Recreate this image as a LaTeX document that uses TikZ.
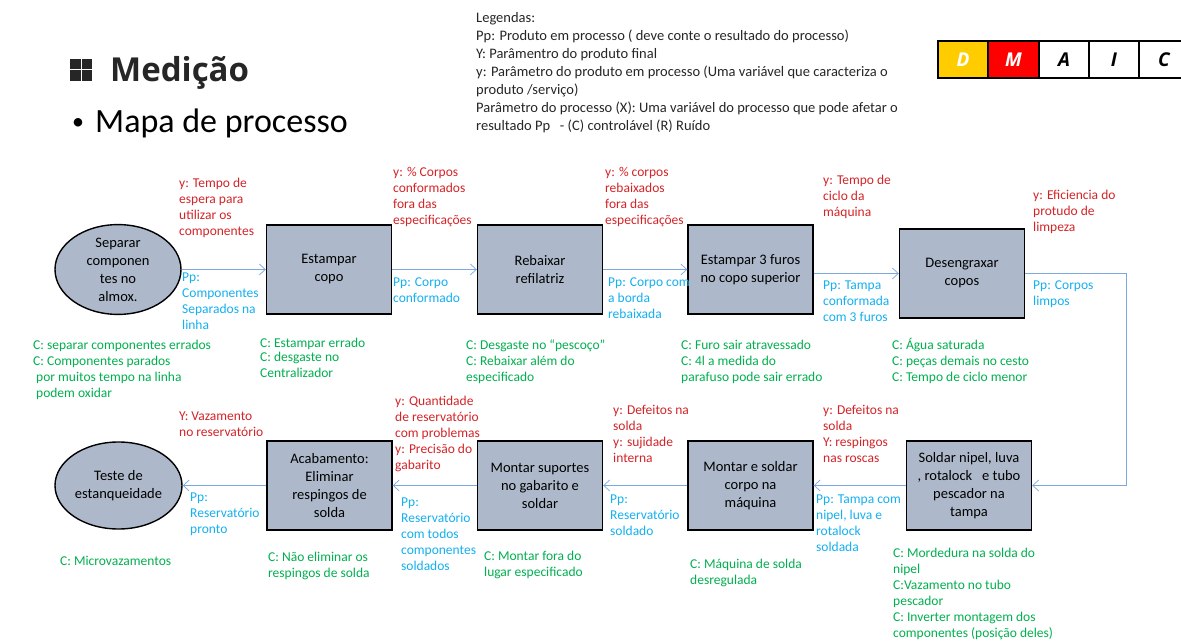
\documentclass[tikz,border=0pt]{standalone}
\usepackage{fontspec}
\setmainfont{Carlito}
\newfontfamily\osans{Open Sans}
\usetikzlibrary{arrows.meta,shapes.geometric}
\definecolor{boxfill}{RGB}{173,185,202}
\definecolor{lred}{RGB}{212,36,40}
\definecolor{lcyan}{RGB}{20,176,240}
\definecolor{lgreen}{RGB}{0,176,80}
\definecolor{arrowblue}{RGB}{125,168,222}
\definecolor{dgray}{RGB}{38,38,38}
\definecolor{dyellow}{RGB}{255,204,0}
\definecolor{dred}{RGB}{255,0,0}
\tikzset{
  procbox/.style={draw=black, line width=1.4pt, fill=boxfill, minimum width=125pt, minimum height=89pt,
    align=center, inner sep=2pt, font=\fontsize{14.5}{18}\selectfont},
  procell/.style={ellipse, draw=black, line width=1.4pt, fill=boxfill, minimum width=126pt, minimum height=88pt,
    align=center, inner sep=0pt, font=\fontsize{14.5}{18}\selectfont},
  lab/.style={inner sep=0pt, anchor=north west, align=left, font=\fontsize{13.5}{16}\selectfont,
    yshift=-2pt, execute at begin node=\strut},
  ylab/.style={lab, text=lred},
  plab/.style={lab, text=lcyan},
  clab/.style={lab, text=lgreen},
  leg/.style={inner sep=0pt, anchor=north west, align=left, font=\fontsize{14.5}{18}\selectfont,
    text=dgray, yshift=-3pt, execute at begin node=\strut},
  flow/.style={draw=arrowblue, line width=0.8pt, -{Straight Barb[length=6pt,width=11pt,line width=0.7pt]}},
  dcell/.style={draw=black, line width=1.3pt, minimum width=50pt, minimum height=37pt, inner sep=0pt,
    font=\osans\bfseries\itshape\fontsize{19}{24}\selectfont},
}
\begin{document}
\begin{tikzpicture}[x=1pt,y=-1pt]
\useasboundingbox[fill=white] (0,0) rectangle (1181,644);

% title
\fill[dgray] (70,59) rectangle (80.5,69.5);
\fill[dgray] (81.5,59) rectangle (92,69.5);
\fill[dgray] (70,70.5) rectangle (80.5,81);
\fill[dgray] (81.5,70.5) rectangle (92,81);
\node[inner sep=0pt, anchor=base west, text=dgray, font=\osans\bfseries\fontsize{33}{38}\selectfont] (title) at (110,82) {Medição};
\node[inner sep=0pt, font=\fontsize{24}{30}\selectfont] (bul) at (78,124) {•};
\node[inner sep=0pt, anchor=base west, font=\fontsize{34}{38}\selectfont] (sub) at (95,133) {Mapa de processo};

% legend
\node[leg] (legend) at (476,9) {Legendas:\\
Pp: Produto em processo ( deve conte o resultado do processo)\\
Y: Parâmentro do produto final\\
y: Parâmetro do produto em processo (Uma variável que caracteriza o\\
produto /serviço)\\
Parâmetro do processo (X): Uma variável do processo que pode afetar o\\
resultado Pp \ \ - (C) controlável (R) Ruído};

% DMAIC
\node[dcell, fill=dyellow, text=white] (dD) at (963,59.5) {D};
\node[dcell, fill=dred, text=white] (dM) at (1013.5,59.5) {M};
\node[dcell, fill=white, text=black] (dA) at (1064,59.5) {A};
\node[dcell, fill=white, text=black] (dI) at (1114,59.5) {I};
\node[dcell, fill=white, text=black] (dC) at (1164,59.5) {C};

% row 1
\node[procell] (e1) at (118,269.5) {Separar\\componen\\tes no\\almox.};
\node[procbox] (b1) at (329,269.5) {Estampar\\copo};
\node[procbox] (b2) at (540,269.5) {Rebaixar\\refilatriz};
\node[procbox] (b3) at (750.5,269.5) {Estampar 3 furos\\no copo superior};
\node[procbox] (b4) at (962,273.5) {Desengraxar\\copos};

% row 2
\node[procbox] (b5) at (969,485.5) {Soldar nipel, luva\\, rotalock \ \ e tubo\\pescador na\\tampa};
\node[procbox] (b6) at (750.5,485.5) {Montar e soldar\\corpo na\\máquina};
\node[procbox] (b7) at (540,485.5) {Montar suportes\\no gabarito e\\soldar};
\node[procbox] (b8) at (329.5,485.5) {Acabamento:\\Eliminar\\respingos de\\solda};
\node[procell, minimum width=127pt, minimum height=87pt] (e2) at (118.5,485.5) {Teste de\\estanqueidade};

% connectors
\draw[flow] (e1) -- (b1);
\draw[flow] (b1) -- (b2);
\draw[flow] (b2) -- (b3);
\draw[flow] (b3.east |- b4.west) -- (b4.west);
\coordinate (turn) at (1126,273.5);
\draw[flow] (b4.east) -- (turn) |- (b5.east);
\draw[flow] (b5) -- (b6);
\draw[flow] (b6) -- (b7);
\draw[flow] (b7) -- (b8);
\draw[flow] (b8) -- (e2);

% y labels
\node[ylab] (r1) at (179,176) {y: Tempo de\\espera para\\utilizar os\\componentes};
\node[ylab] (r2) at (393,165) {y: \% Corpos\\conformados\\fora das\\especificações};
\node[ylab] (r3) at (605,165) {y: \% corpos\\rebaixados\\fora das\\especificações};
\node[ylab] (r4) at (823,173) {y: Tempo de\\ciclo da\\máquina};
\node[ylab] (r5) at (1033,188) {y: Eficiencia do\\protudo de\\limpeza};
\node[ylab] (r6) at (179,410) {Y: Vazamento\\no reservatório};
\node[ylab] (r7) at (395,394) {y: Quantidade\\de reservatório\\com problemas\\y: Precisão do\\gabarito};
\node[ylab] (r8) at (613,403) {y: Defeitos na\\solda\\y: sujidade\\interna};
\node[ylab] (r9) at (823,403) {y: Defeitos na\\solda\\Y: respingos\\nas roscas};

% Pp labels
\node[plab] (p1) at (182,271) {Pp:\\Componentes\\Separados na\\linha};
\node[plab] (p2) at (393,276) {Pp: Corpo\\conformado};
\node[plab] (p3) at (608,276) {Pp: Corpo com\\a borda\\rebaixada};
\node[plab] (p4) at (823,279) {Pp: Tampa\\conformada\\com 3 furos};
\node[plab] (p5) at (1033,279) {Pp: Corpos\\limpos};
\node[plab] (p6) at (190,491) {Pp:\\Reservatório\\pronto};
\node[plab] (p7) at (401,496) {Pp:\\Reservatório\\com todos\\componentes\\soldados};
\node[plab] (p8) at (610,493) {Pp:\\Reservatório\\soldado};
\node[plab] (p9) at (816,493) {Pp: Tampa com\\nipel, luva e\\rotalock\\soldada};

% C labels
\node[clab] (g1a) at (33,336) {C: separar componentes errados};
\node[clab] (g1b) at (33,354) {C: Componentes parados\\\hspace*{3pt}por muitos tempo na linha\\\hspace*{3pt}podem oxidar};
\node[clab] (g2a) at (260,334) {C: Estampar errado};
\node[clab] (g2b) at (260,350) {C: desgaste no\\Centralizador};
\node[clab] (g3a) at (466,336) {C: Desgaste no “pescoço”};
\node[clab] (g3b) at (466,354) {C: Rebaixar além do\\especificado};
\node[clab] (g4a) at (681,336) {C: Furo sair atravessado};
\node[clab] (g4b) at (681,354) {C: 4l a medida do\\parafuso pode sair errado};
\node[clab] (g5a) at (892,336) {C: Água saturada};
\node[clab] (g5b) at (892,354) {C: peças demais no cesto\\C: Tempo de ciclo menor};
\node[clab] (g6) at (60,552) {C: Microvazamentos};
\node[clab] (g7) at (268,550) {C: Não eliminar os\\respingos de solda};
\node[clab] (g8) at (484,549) {C: Montar fora do\\lugar especificado};
\node[clab] (g9) at (690,557) {C: Máquina de solda\\desregulada};
\node[clab] (g10) at (893,546) {C: Mordedura na solda do\\nipel\\C:Vazamento no tubo\\pescador\\C: Inverter montagem dos\\componentes (posição deles)};
\end{tikzpicture}
\end{document}
